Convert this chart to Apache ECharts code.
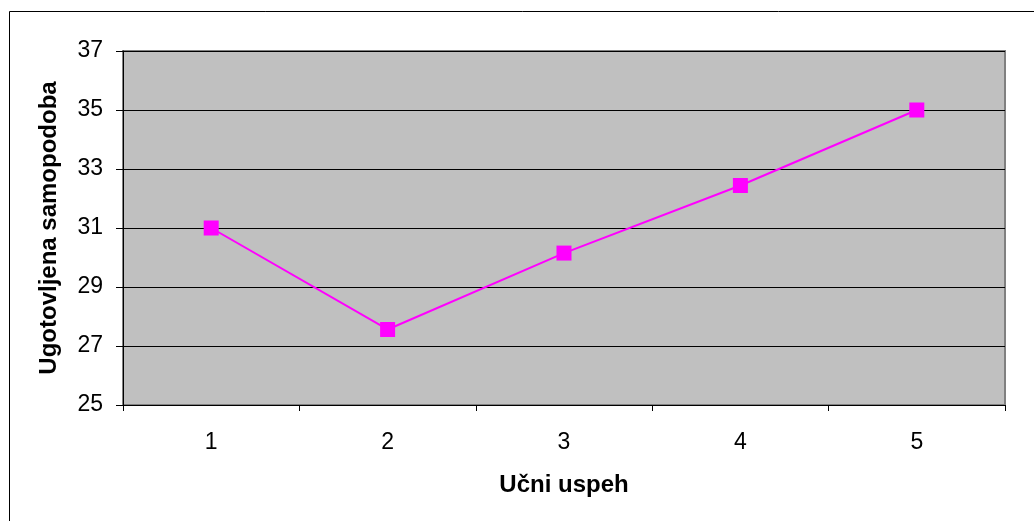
<!DOCTYPE html>
<html>
<head>
<meta charset="utf-8">
<script src="https://cdn.jsdelivr.net/npm/echarts@6/dist/echarts.min.js"></script>
<style>html,body{margin:0;padding:0;background:#fff}#c{width:1034px;height:521px}</style>
</head>
<body>
<div id="c"></div>
<script>
const categories = ['1', '2', '3', '4', '5'];
const values = [31.0, 27.56, 30.15, 32.44, 35.0];
const xTitle = 'Učni uspeh';
const yTitle = 'Ugotovljena samopodoba';

const chart = echarts.init(document.getElementById('c'), null, {renderer: 'canvas'});
const font = 'Liberation Sans, Arial, sans-serif';
chart.setOption({
  animation: false,
  backgroundColor: '#ffffff',
  graphic: [{
    type: 'rect', left: 7, top: 9, shape: {width: 1100, height: 600},
    style: {fill: 'none', stroke: '#000', lineWidth: 1}, z: -10
  }],
  grid: {
    left: 123, right: 29, top: 51, bottom: 116,
    show: true, backgroundColor: '#c0c0c0', borderColor: '#808080', borderWidth: 2
  },
  xAxis: {
    type: 'category', data: categories, boundaryGap: true,
    name: xTitle, nameLocation: 'middle', nameGap: 68,
    nameTextStyle: {fontFamily: font, fontWeight: 'bold', fontSize: 24, color: '#000'},
    axisLine: {show: true, lineStyle: {color: '#000', width: 1}},
    axisTick: {show: true, inside: false, length: 6, lineStyle: {color: '#000'}},
    axisLabel: {fontFamily: font, fontSize: 23, color: '#000', margin: 26},
    splitLine: {show: false}
  },
  yAxis: {
    type: 'value', min: 25, max: 37, interval: 2,
    name: yTitle, nameLocation: 'middle', nameGap: 62, nameRotate: 90,
    nameTextStyle: {fontFamily: font, fontWeight: 'bold', fontSize: 24, color: '#000'},
    axisLine: {show: true, lineStyle: {color: '#000', width: 1}},
    axisTick: {show: true, inside: false, length: 7, lineStyle: {color: '#000'}},
    axisLabel: {fontFamily: font, fontSize: 23, color: '#000', margin: 20},
    splitLine: {show: true, lineStyle: {color: '#000', width: 1}}
  },
  series: [{
    type: 'line', data: values,
    symbol: 'rect', symbolSize: 15,
    lineStyle: {color: '#ff00ff', width: 2},
    itemStyle: {color: '#ff00ff'}
  }]
});
</script>
</body>
</html>
